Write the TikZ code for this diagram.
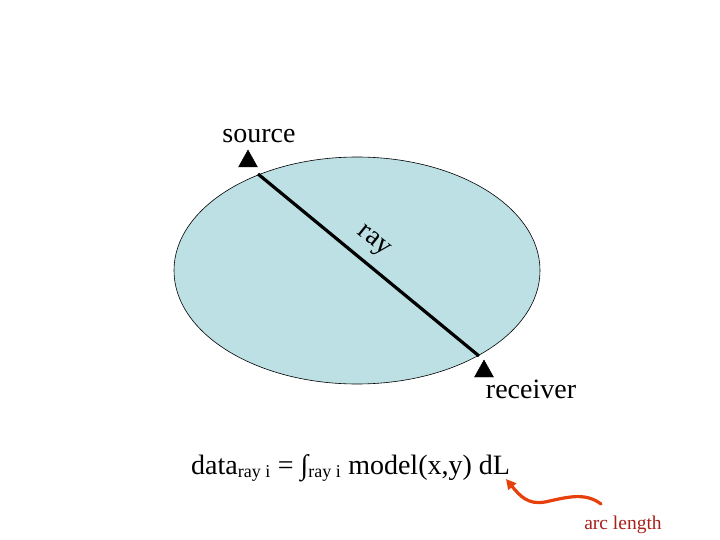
\documentclass[tikz,border=0pt]{standalone}
\usepackage{fontspec}
\setmainfont{Liberation Serif}
\usetikzlibrary{arrows.meta,shapes.geometric}
\definecolor{lake}{HTML}{BCE0E4}
\definecolor{squig}{HTML}{E8400C}
\definecolor{arclab}{HTML}{A8201A}
\newcommand{\subsz}{\fontsize{18}{20}\selectfont}
\tikzset{
  lbl/.style={font=\fontsize{28}{32}\selectfont, inner sep=0pt},
  tri/.style={fill=black, draw=black},
}
\begin{document}
\begin{tikzpicture}[x=1pt,y=-1pt]
\useasboundingbox (0,0) rectangle (720,540);
\node[ellipse, draw=black, fill=lake, line width=0.6pt, minimum width=366pt, minimum height=227pt, inner sep=0pt] (body) at (357,270.5) {};
\coordinate (s) at (258,174);
\coordinate (r) at (479,356);
\draw[line width=3.2pt] (s) -- (r);
\fill[tri] (248,150) -- (257.5,167) -- (238.5,167) -- cycle;
\fill[tri] (484,360) -- (493.5,377) -- (474.5,377) -- cycle;
\node[lbl] (src) at (259,136) {source};
\node[lbl] (rcv) at (531,389) {receiver};
\node[lbl, rotate=-39] (raylbl) at (373,242) {ray};
\node[lbl, anchor=base west] (eq) at (191,474) {data\textsubscript{\subsz ray i} = ∫\textsubscript{\subsz ray i} model(x,y) dL};
\node[font=\fontsize{19.5}{22}\selectfont, text=arclab, inner sep=0pt] (arc) at (623,525) {arc length};
\coordinate (tail) at (601,504);
\coordinate (tip) at (506,479);
\draw[squig, line width=3.2pt, line cap=round, -{Triangle[length=10pt,width=10pt]}]
  (tail) .. controls (585,492) and (568,497) .. (545,502)
  .. controls (528,505) and (520,496) .. (tip);
\end{tikzpicture}
\end{document}
